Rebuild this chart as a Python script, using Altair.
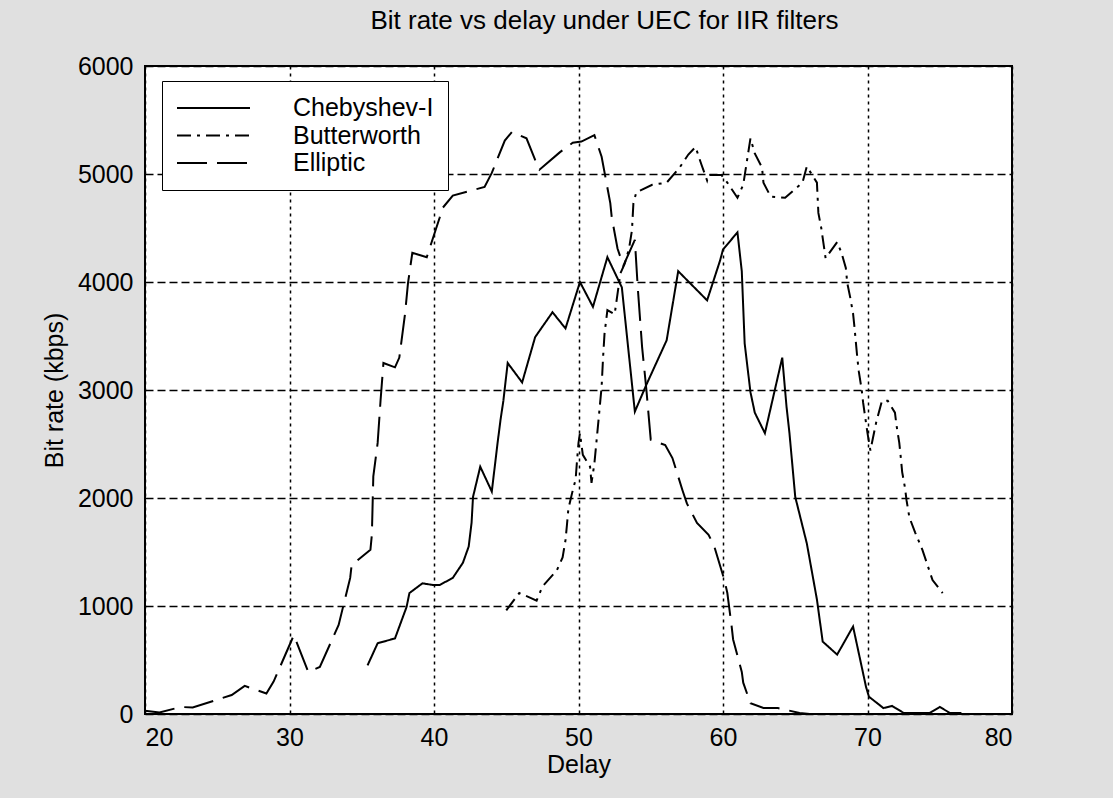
import altair as alt
import pandas as pd

series_names = ["Chebyshev-I", "Butterworth", "Elliptic"]

cheb_x = [35.4, 36.1, 37.3, 38.1, 38.3, 39.2, 39.9, 40.4, 41.3, 42.0, 42.4, 42.6, 42.7, 43.2, 44.0,
          44.4, 44.6, 44.8, 45.1, 46.1, 47.0, 48.2, 49.1, 50.1, 51.0, 52.0, 53.0, 53.9, 54.7, 56.1,
          56.9, 58.9, 59.8, 60.0, 61.0, 61.3, 61.5, 61.9, 62.2, 62.9, 64.1, 64.4, 64.6, 65.0, 65.8,
          66.5, 66.9, 67.9, 69.0, 69.9, 70.1, 71.1, 71.7, 72.5, 74.3, 75.0, 75.7, 76.5]
cheb_y = [450, 655, 700, 990, 1120, 1210, 1195, 1195, 1260, 1400, 1550, 1770, 2010, 2290, 2060,
          2510, 2720, 2900, 3250, 3070, 3490, 3720, 3570, 4000, 3770, 4230, 3950, 2800, 3050, 3460,
          4100, 3830, 4200, 4300, 4460, 4100, 3430, 2980, 2790, 2600, 3300, 2840, 2600, 2010, 1580,
          1060, 670, 550, 810, 250, 160, 55, 75, 10, 10, 65, 10, 10]

butter_x = [45.0, 45.9, 46.6, 47.1, 47.5, 48.5, 48.9, 49.1, 49.2, 49.3, 49.6, 49.8, 49.9, 50.0, 50.1,
            50.3, 50.8, 50.9, 51.1, 51.3, 51.6, 51.7, 51.8, 52.0, 52.5, 52.9, 53.2, 53.5, 53.7, 53.8,
            54.0, 55.1, 56.1, 57.0, 57.6, 58.1, 58.5, 58.9, 59.0, 59.9, 60.3, 61.0, 61.4, 61.9, 62.2,
            62.7, 62.8, 63.3, 64.3, 65.5, 65.8, 66.5, 66.6, 66.8, 67.1, 67.9, 68.2, 68.5, 68.6, 68.8,
            69.0, 69.1, 69.3, 69.4, 69.6, 69.7, 70.0, 70.2, 70.6, 71.0, 71.4, 71.9, 72.0, 72.2, 72.3,
            72.4, 72.6, 72.7, 72.9, 73.3, 73.8, 74.1, 74.5, 75.2]
butter_y = [960, 1120, 1080, 1050, 1180, 1330, 1450, 1610, 1750, 1900, 2070, 2170, 2350, 2510, 2600,
            2400, 2290, 2140, 2320, 2600, 3030, 3300, 3520, 3740, 3700, 4080, 4170, 4310, 4480, 4730,
            4830, 4900, 4920, 5060, 5180, 5250, 5090, 4940, 4990, 4990, 4920, 4780, 4900, 5330, 5190,
            5060, 4920, 4790, 4780, 4920, 5070, 4920, 4640, 4500, 4220, 4370, 4270, 4130, 3990, 3860,
            3710, 3580, 3290, 3170, 3000, 2880, 2600, 2440, 2700, 2900, 2900, 2790, 2680, 2510, 2380,
            2240, 2090, 1980, 1820, 1680, 1520, 1400, 1240, 1120]

ellip_x = [20.0, 21.0, 22.5, 23.3, 26.0, 26.9, 28.4, 28.9, 30.3, 31.3, 32.1, 33.4, 34.2, 34.3, 35.6,
           35.7, 35.8, 36.1, 36.3, 36.5, 37.3, 37.6, 38.0, 38.2, 38.5, 39.5, 40.4, 40.5, 41.3, 43.5,
           44.0, 44.9, 45.4, 46.4, 47.0, 47.3, 48.7, 49.6, 50.2, 51.1, 51.6, 52.2, 52.3, 52.7, 53.1,
           53.9, 54.1, 54.4, 54.7, 55.0, 56.0, 56.5, 57.2, 57.5, 58.2, 59.0, 59.4, 60.1, 60.3, 60.6,
           60.7, 61.3, 61.4, 61.9, 62.8, 63.8, 65.3, 66.0]
ellip_y = [30, 15, 65, 60, 176, 260, 190, 300, 730, 390, 435, 825, 1260, 1380, 1520,
           1660, 2200, 2510, 2900, 3250, 3210, 3300, 3710, 3990, 4270, 4230, 4600, 4670, 4800, 4880,
           5010, 5310, 5390, 5330, 5130, 5040, 5200, 5290, 5300, 5360, 5160, 4730, 4600, 4310, 4150,
           4390, 3950, 3400, 3000, 2540, 2490, 2370, 2070, 1950, 1770, 1660, 1550, 1240, 1120, 810,
           690, 390, 290, 100, 55, 55, 10, 0]

x_ticks = [20, 30, 40, 50, 60, 70, 80]
y_ticks = [0, 1000, 2000, 3000, 4000, 5000, 6000]

frames = []
for name, xs, ys in [(series_names[0], cheb_x, cheb_y),
                     (series_names[1], butter_x, butter_y),
                     (series_names[2], ellip_x, ellip_y)]:
    frames.append(pd.DataFrame({"Delay": xs, "Rate": ys, "Filter": name, "idx": range(len(xs))}))
df = pd.concat(frames, ignore_index=True)

FONT = "Liberation Sans"
FS = 25

lines = alt.Chart(df).mark_line(strokeWidth=2, color="black").encode(
    x=alt.X("Delay:Q", scale=alt.Scale(domain=[20, 80], nice=False),
            axis=alt.Axis(values=x_ticks, title="Delay", grid=True, format="d",
                          gridDash=[3, 4], gridColor="black", gridWidth=1.5, gridOpacity=1,
                          domain=False, ticks=False, labelPadding=11, titlePadding=2)),
    y=alt.Y("Rate:Q", scale=alt.Scale(domain=[0, 6000], nice=False),
            axis=alt.Axis(values=y_ticks, title="Bit rate (kbps)", format="d",
                          grid=True, gridDash=[8, 4], gridColor="black", gridWidth=1.5, gridOpacity=1,
                          domain=False, ticks=False, labelPadding=12, titlePadding=10)),
    strokeDash=alt.StrokeDash("Filter:N",
                              scale=alt.Scale(domain=series_names,
                                              range=[[1, 0], [14, 6, 3, 6], [30, 10]]),
                              legend=alt.Legend(title=None, orient="none", legendX=17, legendY=15,
                                                symbolType="stroke", symbolSize=5329,
                                                symbolStrokeWidth=2, symbolStrokeColor="black",
                                                labelFontSize=FS, labelFont=FONT, labelColor="black",
                                                labelOffset=42, rowPadding=1.5, clipHeight=26,
                                                padding=14, strokeColor="black", fillColor="white")),
    order="idx:Q",
    detail="Filter:N",
)

chart = lines.properties(
    width=867, height=648,
    title=alt.TitleParams("Bit rate vs delay under UEC for IIR filters", fontSize=26, font=FONT,
                          fontWeight="normal", color="black", offset=20, dx=26),
    padding={"left": 145, "top": 66, "right": 101, "bottom": 84},
    autosize=alt.AutoSizeParams(type="none"),
    background="#e0e0e0",
).configure_view(
    fill="white", stroke="black", strokeWidth=2
).configure_axis(
    labelFont=FONT, labelFontSize=FS, labelColor="black",
    titleFont=FONT, titleFontSize=FS, titleColor="black", titleFontWeight="normal",
)

chart.save("out.html", embed_options={"renderer": "svg", "actions": False})
